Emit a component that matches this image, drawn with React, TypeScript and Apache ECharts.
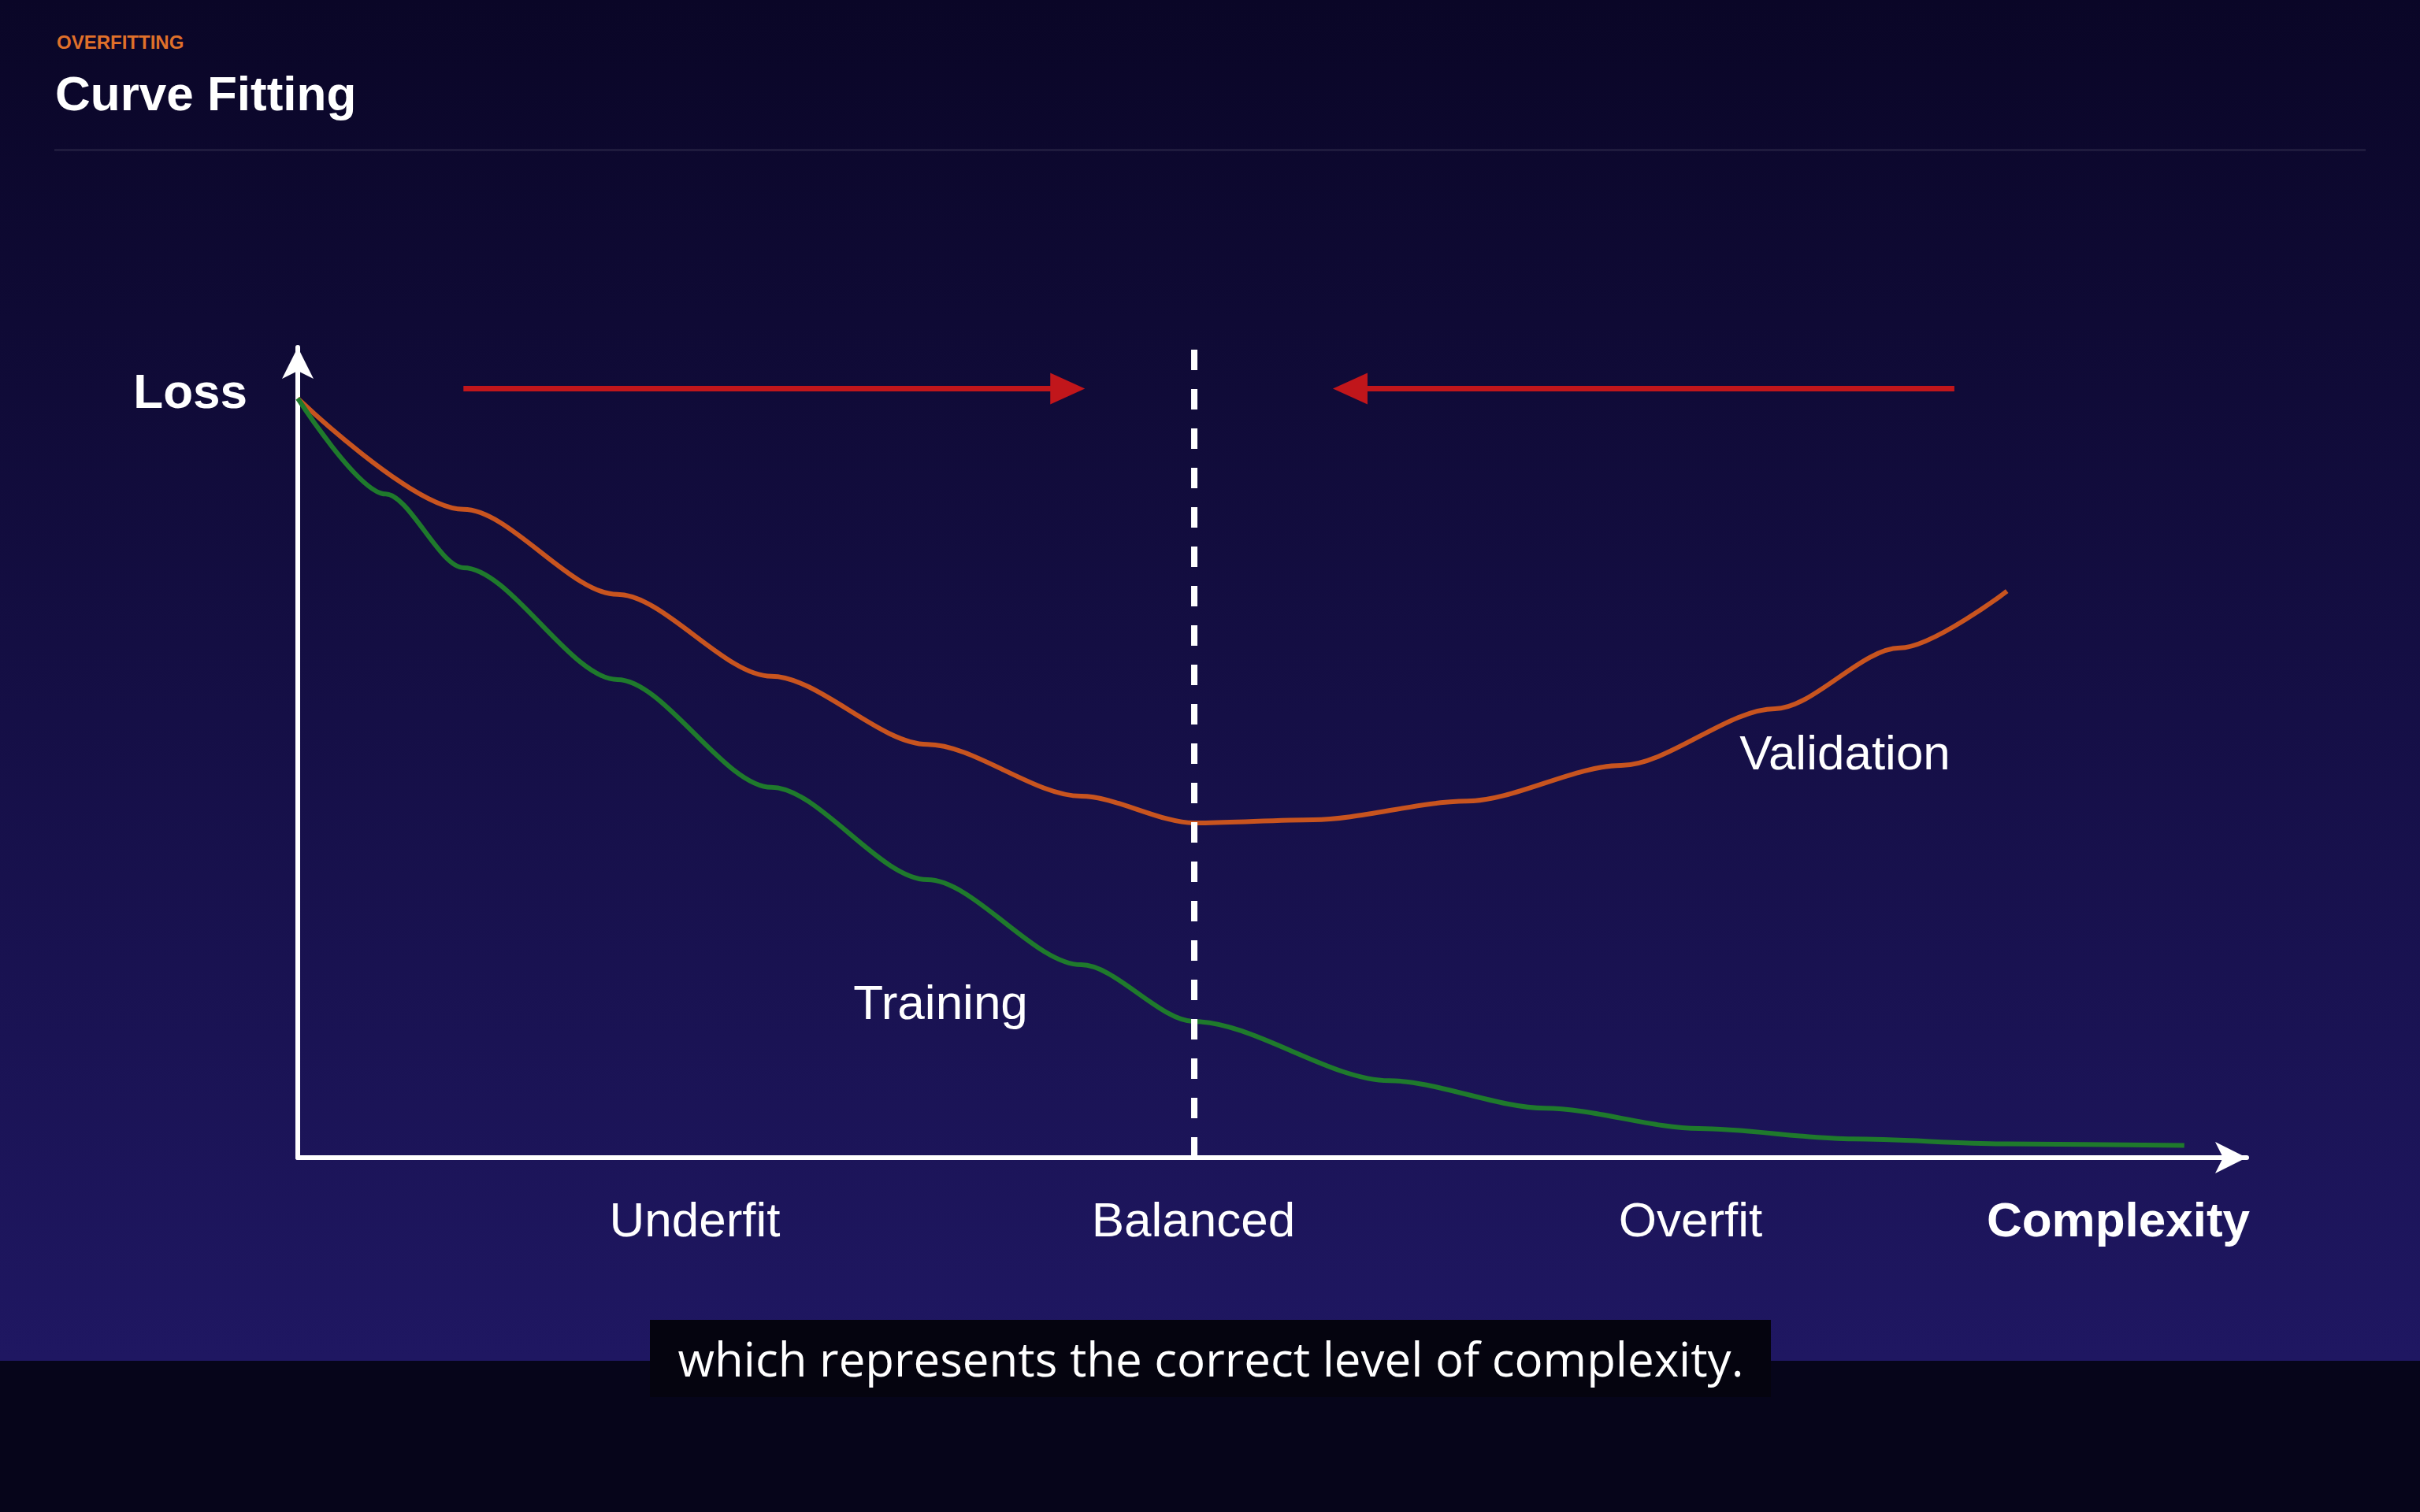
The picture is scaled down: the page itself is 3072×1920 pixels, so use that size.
import React, { useEffect, useRef } from "react";
import * as echarts from "echarts";

// complexity (0..100) vs loss (0..100)
const validationX = [0, 8.5, 16.4, 24.3, 32.3, 40.2, 46, 52.1, 60, 67.9, 75.8, 82.2, 87.7];
const validationY = [93.7, 80, 69.5, 59.4, 51, 44.6, 41.3, 41.7, 44, 48.4, 55.4, 62.9, 69.9];
const trainingX = [0, 4.5, 8.5, 16.4, 24.3, 32.3, 40.2, 46, 56, 64, 71.9, 79.8, 87.7, 96.8];
const trainingY = [93.7, 81.9, 72.8, 59, 45.7, 34.3, 23.8, 16.8, 9.5, 6.1, 3.6, 2.3, 1.7, 1.5];

const balancedX = 46;
const balancedTop = 102;
const arrowY = 94.9;
const leftArrow = [8.5, 39.5];
const rightArrow = [85, 54];

const zoneLabels = ["Underfit", "Balanced", "Overfit"];
const caption = "which represents the correct level of complexity.";

const FONT = '"Liberation Sans", Arial, sans-serif';

const App: React.FC = () => {
  const chartRef = useRef<HTMLDivElement>(null);

  useEffect(() => {
    document.body.style.margin = "0";
    if (!chartRef.current) return;
    const chart = echarts.init(chartRef.current, undefined, { renderer: "svg" });

    const zip = (xs: number[], ys: number[]) => xs.map((x, i) => [x, ys[i]]);
    const labelStyle = (x: number, y: number, text: string, bold = false, align = "center") => ({
      type: "text",
      x,
      y,
      style: {
        text,
        fill: "#ffffff",
        font: `${bold ? "bold " : ""}62px ${FONT}`,
        textAlign: align,
        textVerticalAlign: "middle",
      },
    });

    chart.setOption({
      animation: false,
      backgroundColor: {
        type: "linear",
        x: 0, y: 0, x2: 0, y2: 1,
        colorStops: [
          { offset: 0, color: "#0a0627" },
          { offset: 0.9, color: "#1f1762" },
        ],
      },
      grid: { left: 378, top: 441, width: 2474, height: 1029 },
      xAxis: {
        type: "value",
        min: 0,
        max: 100,
        axisLine: {
          show: true,
          lineStyle: { color: "#ffffff", width: 6 },
          symbol: ["none", "arrow"],
          symbolSize: [30, 40],
        },
        axisLabel: { show: false },
        axisTick: { show: false },
        splitLine: { show: false },
      },
      yAxis: {
        type: "value",
        min: 0,
        max: 100,
        axisLine: {
          show: true,
          lineStyle: { color: "#ffffff", width: 6 },
          symbol: ["none", "arrow"],
          symbolSize: [30, 40],
        },
        axisLabel: { show: false },
        axisTick: { show: false },
        splitLine: { show: false },
      },
      series: [
        {
          type: "line",
          name: "Balanced",
          data: [[balancedX, 0], [balancedX, balancedTop]],
          clip: false,
          showSymbol: false,
          lineStyle: { color: "#ffffff", width: 8, type: [26, 24] },
          z: 4,
        },
        {
          type: "line",
          name: "Validation",
          data: zip(validationX, validationY),
          smooth: 0.3,
          smoothMonotone: "x",
          showSymbol: false,
          lineStyle: { color: "#c8541f", width: 6 },
          z: 3,
        },
        {
          type: "line",
          name: "Training",
          data: zip(trainingX, trainingY),
          smooth: 0.3,
          smoothMonotone: "x",
          showSymbol: false,
          lineStyle: { color: "#1f7a2c", width: 6 },
          z: 3,
          markLine: {
            silent: true,
            label: { show: false },
            data: [
              [
                { coord: [leftArrow[0], arrowY], symbol: "none", lineStyle: { color: "#c1161b", width: 7, type: "solid" } },
                { coord: [leftArrow[1], arrowY], symbol: "triangle", symbolSize: [40, 44], symbolRotate: -90 },
              ],
              [
                { coord: [rightArrow[0], arrowY], symbol: "none", lineStyle: { color: "#c1161b", width: 7, type: "solid" } },
                { coord: [rightArrow[1], arrowY], symbol: "triangle", symbolSize: [40, 44], symbolRotate: 90 },
              ],
            ],
          },
        },
      ],
      graphic: [
        {
          type: "text",
          x: 72,
          y: 53,
          style: { text: "OVERFITTING", fill: "#e0702a", font: `bold 24px ${FONT}`, textVerticalAlign: "middle" },
        },
        {
          type: "text",
          x: 70,
          y: 118,
          style: { text: "Curve Fitting", fill: "#ffffff", font: `bold 62px ${FONT}`, textVerticalAlign: "middle" },
        },
        {
          type: "rect",
          shape: { x: 69, y: 189, width: 2934, height: 3 },
          style: { fill: "rgba(255,255,255,0.08)" },
        },
        labelStyle(314, 496, "Loss", true, "right"),
        labelStyle(882, 1548, zoneLabels[0]),
        labelStyle(1515, 1548, zoneLabels[1]),
        labelStyle(2146, 1548, zoneLabels[2]),
        labelStyle(2689, 1548, "Complexity", true),
        labelStyle(2342, 955, "Validation"),
        labelStyle(1194, 1272, "Training"),
        {
          type: "rect",
          shape: { x: 0, y: 1728, width: 3072, height: 192 },
          style: { fill: "#06051a" },
        },
        {
          type: "rect",
          shape: { x: 825, y: 1676, width: 1423, height: 98 },
          style: { fill: "#05040f" },
        },
        {
          type: "text",
          x: 1537,
          y: 1725,
          style: {
            text: caption,
            fill: "#ffffff",
            font: `60px "Open Sans", sans-serif`,
            textAlign: "center",
            textVerticalAlign: "middle",
          },
        },
      ],
    });

    return () => chart.dispose();
  }, []);

  return <div ref={chartRef} style={{ width: 3072, height: 1920 }} />;
};

export default App;
